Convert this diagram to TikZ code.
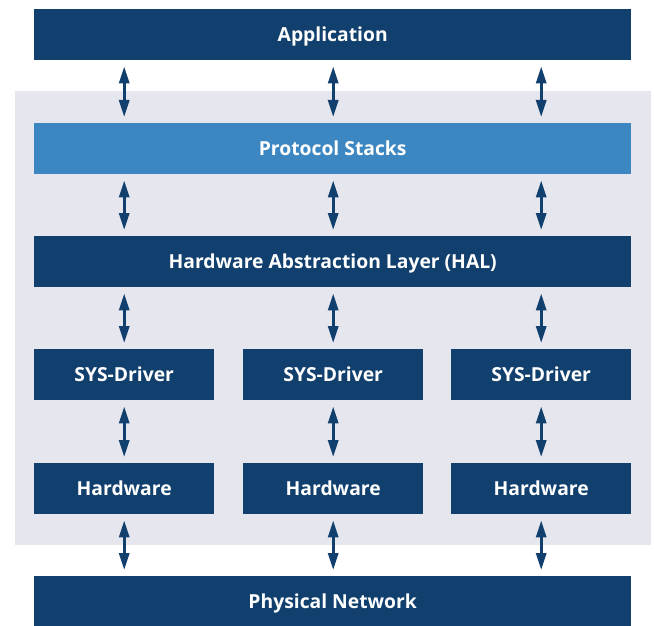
\documentclass[tikz,border=0pt]{standalone}
\usepackage{fontspec}
\setmainfont{Open Sans}
\usetikzlibrary{arrows.meta}
\definecolor{dblue}{HTML}{11406E}
\definecolor{lblue}{HTML}{3C87C1}
\definecolor{bggrey}{HTML}{E6E6EF}
\begin{document}
\begin{tikzpicture}[x=1pt,y=-1pt,
  box/.style={fill=dblue, text=white, font=\bfseries\fontsize{19.3}{22}\selectfont, inner sep=0pt, anchor=north west, minimum height=51pt, text height=14.5pt, text depth=0pt},
  wide/.style={box, minimum width=597pt},
  col/.style={box, minimum width=180pt},
  arr/.style={draw=dblue, line width=3pt, {Triangle[width=10pt,length=17pt]}-{Triangle[width=10pt,length=17pt]}, shorten <=6pt, shorten >=6pt}]
\useasboundingbox (0,0) rectangle (654,626);
\fill[bggrey] (15,91) rectangle (651,545);
\node[wide] (app) at (34,9) {Application};
\node[wide, fill=lblue] (ps) at (34,123) {Protocol Stacks};
\node[wide] (hal) at (34,236) {Hardware Abstraction Layer (HAL)};
\node[col] (sd1) at (34,349) {SYS-Driver};
\node[col] (sd2) at (243,349) {SYS-Driver};
\node[col] (sd3) at (451,349) {SYS-Driver};
\node[col] (hw1) at (34,463) {Hardware};
\node[col] (hw2) at (243,463) {Hardware};
\node[col] (hw3) at (451,463) {Hardware};
\node[wide] (phy) at (34,576) {Physical Network};
\foreach \c in {1,2,3}{
  \draw[arr] (app.south -| sd\c) -- (ps.north -| sd\c);
  \draw[arr] (ps.south -| sd\c) -- (hal.north -| sd\c);
  \draw[arr] (hal.south -| sd\c) -- (sd\c.north);
  \draw[arr] (sd\c.south) -- (hw\c.north);
  \draw[arr] (hw\c.south) -- (phy.north -| hw\c);
}
\end{tikzpicture}
\end{document}
